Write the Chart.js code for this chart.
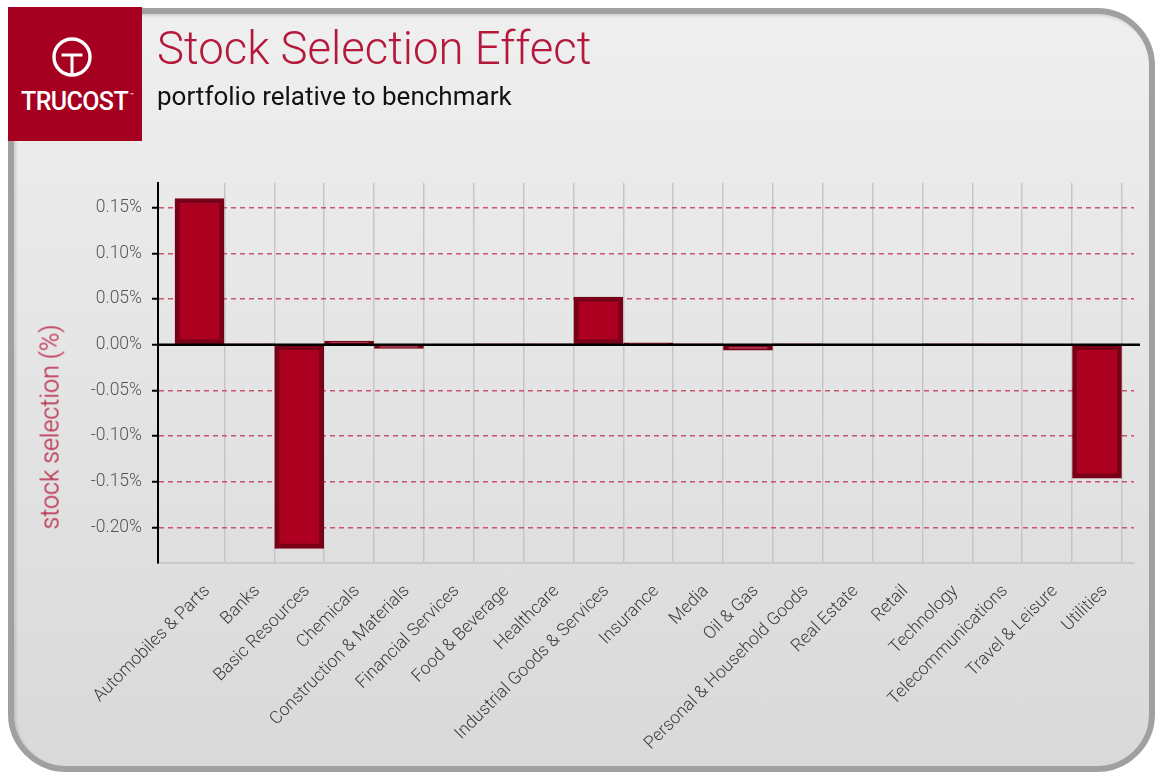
<!DOCTYPE html>
<html><head><meta charset="utf-8">
<script src="https://cdn.jsdelivr.net/npm/chart.js@4.4.1/dist/chart.umd.min.js"></script>
<style>
html,body{margin:0;padding:0;background:#fff;width:1156px;height:773px;overflow:hidden;font-family:Roboto,"Liberation Sans",sans-serif;}
#panel{position:absolute;left:8px;top:8px;width:1135px;height:752px;border:6px solid #a0a0a0;border-radius:58px;background:linear-gradient(#efefef,#d9d9d9);box-shadow:inset 2px 2px 3px rgba(0,0,0,0.12);}
#logo{position:absolute;left:8px;top:7px;width:134px;height:134px;background:#a5001f;z-index:3;}
#logo .lt{position:absolute;left:13px;top:80px;color:#fff;font-size:25px;font-weight:500;letter-spacing:-0.6px;}
#logo .lt sup{font-size:6px;vertical-align:top;position:relative;top:4px;left:2px;}
#title{position:absolute;left:157px;top:22px;color:#b4183b;font-size:45.5px;font-weight:300;white-space:nowrap;z-index:3;}
#subtitle{position:absolute;left:157px;top:81px;color:#111;font-size:26px;font-weight:400;white-space:nowrap;z-index:3;}
#ytitle{position:absolute;left:50px;top:427px;transform:translate(-50%,-50%) rotate(-90deg);color:#b4183b;font-size:25px;font-weight:300;white-space:nowrap;z-index:3;}
#c{position:absolute;left:0;top:0;z-index:2;}
</style></head>
<body>
<div id="panel"></div>
<div id="logo"><svg width="134" height="134" style="position:absolute;left:0;top:0"><circle cx="64" cy="50" r="18" fill="none" stroke="#fff" stroke-width="3.4"/><line x1="53.5" y1="48" x2="74.5" y2="48" stroke="#fff" stroke-width="3"/><line x1="64" y1="48" x2="64" y2="69" stroke="#fff" stroke-width="3"/></svg><div class="lt">TRUCOST<sup>™</sup></div></div>
<div id="title">Stock Selection Effect</div>
<div id="subtitle">portfolio relative to benchmark</div>
<div id="ytitle">stock selection (%)</div>
<canvas id="c" width="1156" height="773"></canvas>
<script>
const categories = ["Automobiles & Parts","Banks","Basic Resources","Chemicals","Construction & Materials","Financial Services","Food & Beverage","Healthcare","Industrial Goods & Services","Insurance","Media","Oil & Gas","Personal & Household Goods","Real Estate","Retail","Technology","Telecommunications","Travel & Leisure","Utilities"];
const selection = [0.160, 0.0005, -0.223, 0.004, -0.004, -0.001, 0.001, 0.001, 0.052, 0.002, 0.001, -0.006, 0.001, -0.001, -0.001, 0.001, 0.001, -0.001, -0.146];
const yTicks = [-0.20, -0.15, -0.10, -0.05, 0.00, 0.05, 0.10, 0.15];

const zeroLine = {
  id: 'zeroLine',
  afterDatasetsDraw(chart) {
    const y = chart.scales.y.getPixelForValue(0);
    const ctx = chart.ctx;
    ctx.save();
    ctx.strokeStyle = '#000';
    ctx.lineWidth = 2.5;
    ctx.beginPath();
    ctx.moveTo(chart.chartArea.left, y);
    ctx.lineTo(chart.chartArea.right + 6, y);
    ctx.stroke();
    ctx.restore();
  }
};

Chart.defaults.font.family = 'Roboto, "Liberation Sans", sans-serif';

new Chart(document.getElementById('c'), {
  type: 'bar',
  data: {
    datasets: [{
      data: categories.map((c, i) => ({x: i, y: selection[i]})),
      backgroundColor: '#ad0020',
      borderColor: '#780017',
      borderWidth: 5,
      borderSkipped: false,
      barThickness: 49
    }]
  },
  options: {
    responsive: false,
    animation: false,
    layout: {padding: {top: 183, right: 22, left: 0, bottom: 0}},
    plugins: {legend: {display: false}, tooltip: {enabled: false}},
    scales: {
      x: {
        type: 'linear', min: -0.832, max: 18.742, offset: false,
        afterBuildTicks(s) { s.ticks = categories.map((_, i) => ({value: i})); },
        afterFit(s) { s.height = 210; },
        grid: {offset: true, color: (c) => c.index === 0 ? 'rgba(0,0,0,0)' : '#c6c6c6', lineWidth: 1.5, drawTicks: false},
        border: {display: true, color: '#c9c9c9', width: 2},
        ticks: {autoSkip: false, maxRotation: 45, minRotation: 45, padding: 18, labelOffset: 8, color: '#3a3a3a',
          font: {size: 17.5, weight: '300'}, callback: (v) => categories[v]}
      },
      y: {
        min: -0.239, max: 0.177,
        afterBuildTicks(s) { s.ticks = yTicks.map(v => ({value: v})); },
        afterFit(s) { s.width = 158; },
        grid: {color: (c) => (c.tick && Math.abs(c.tick.value) < 1e-9) ? 'rgba(0,0,0,0)' : 'rgba(192,50,80,0.8)',
          lineWidth: 1.5, drawTicks: true, tickLength: 6, tickColor: '#000', tickWidth: 2, tickBorderDash: []},
        border: {display: true, color: '#000', width: 2, dash: [5, 4]},
        ticks: {padding: 10, color: '#555', font: {size: 17.5, weight: '300'}, callback: (v) => v.toFixed(2) + '%'}
      }
    }
  },
  plugins: [zeroLine]
});
</script>
</body></html>
